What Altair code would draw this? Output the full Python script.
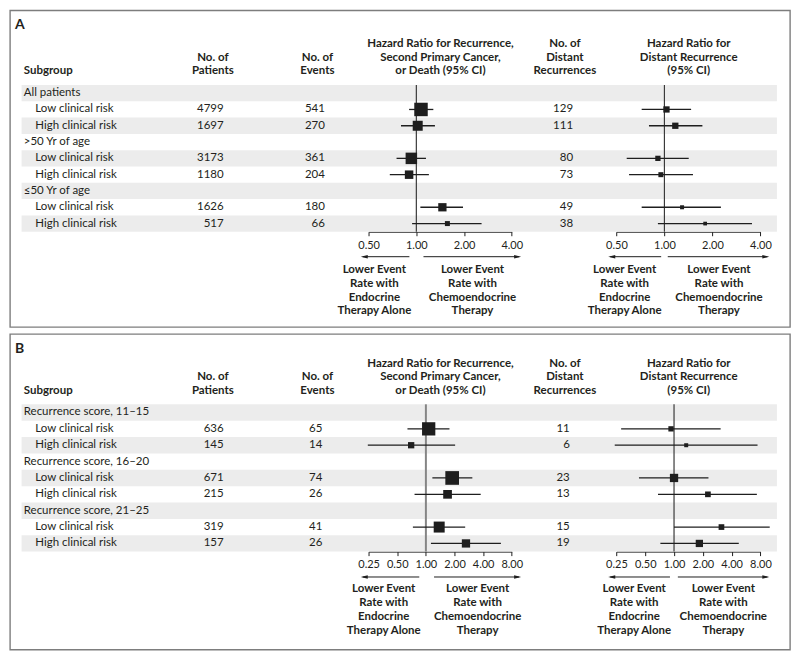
import altair as alt
import pandas as pd

# ---------------- data: panel A ----------------
A_rows = ["All patients", "Low clinical risk", "High clinical risk",
          ">50 Yr of age", "Low clinical risk", "High clinical risk",
          "≤50 Yr of age", "Low clinical risk", "High clinical risk"]
A_group_rows = [0, 3, 6]
A_patients = [4799, 1697, 3173, 1180, 1626, 517]
A_events = [541, 270, 361, 204, 180, 66]
A_distant = [129, 111, 80, 73, 49, 38]
A_hr1 = [1.07, 1.02, 0.93, 0.90, 1.46, 1.57]
A_lo1 = [0.90, 0.80, 0.75, 0.68, 1.06, 0.94]
A_hi1 = [1.28, 1.31, 1.15, 1.20, 1.97, 2.58]
A_wt1 = [13.5, 10.0, 11.5, 8.5, 8.3, 5.0]
A_hr2 = [1.03, 1.17, 0.91, 0.95, 1.29, 1.80]
A_lo2 = [0.72, 0.80, 0.58, 0.60, 0.72, 0.91]
A_hi2 = [1.47, 1.73, 1.42, 1.51, 2.26, 3.54]
A_wt2 = [6.3, 6.3, 5.3, 5.0, 4.0, 3.7]
A_ticks = [0.5, 1, 2, 4]

# ---------------- data: panel B ----------------
B_rows = ["Recurrence score, 11–15", "Low clinical risk", "High clinical risk",
          "Recurrence score, 16–20", "Low clinical risk", "High clinical risk",
          "Recurrence score, 21–25", "Low clinical risk", "High clinical risk"]
B_group_rows = [0, 3, 6]
B_patients = [636, 145, 671, 215, 319, 157]
B_events = [65, 14, 74, 26, 41, 26]
B_distant = [11, 6, 23, 13, 15, 19]
B_hr1 = [1.07, 0.70, 1.89, 1.69, 1.38, 2.64]
B_lo1 = [0.64, 0.245, 1.17, 0.76, 0.73, 1.13]
B_hi1 = [1.77, 2.03, 3.08, 3.77, 2.59, 6.15]
B_wt1 = [13.3, 6.3, 13.7, 8.7, 11.0, 8.3]
B_hr2 = [0.93, 1.34, 1.00, 2.26, 3.13, 1.84]
B_lo2 = [0.28, 0.24, 0.43, 0.68, 1.00, 0.72]
B_hi2 = [3.07, 7.46, 2.29, 7.34, 10.0, 4.75]
B_wt2 = [5.3, 4.0, 8.3, 5.7, 5.7, 7.3]
B_ticks = [0.25, 0.5, 1, 2, 4, 8]

# ---------------- text ----------------
H_SUBGROUP = ["Subgroup"]
H_PATIENTS = ["No. of", "Patients"]
H_EVENTS = ["No. of", "Events"]
H_HR1 = ["Hazard Ratio for Recurrence,", "Second Primary Cancer,", "or Death (95% CI)"]
H_DISTANT = ["No. of", "Distant", "Recurrences"]
H_HR2 = ["Hazard Ratio for", "Distant Recurrence", "(95% CI)"]
NOTE_LEFT = ["Lower Event", "Rate with", "Endocrine", "Therapy Alone"]
NOTE_RIGHT = ["Lower Event", "Rate with", "Chemoendocrine", "Therapy"]

# ---------------- style ----------------
FONT = "Lato"
INK = "#1e1e1e"
TXT = "#231f20"
SHADE = "#ececec"
FS = 11.5
W = 781
ONE = pd.DataFrame({"k": [0]})
LEFT_HEAD = "M-1,0L1,-0.5L1,0.5Z"
RIGHT_HEAD = "M1,0L-1,-0.5L-1,0.5Z"


def text_block(lines, x, y_center_first, align, bold=True, lh=13.6, size=FS):
    return alt.Chart(ONE).mark_text(
        align=align, baseline="top", font=FONT, fontSize=size,
        fontWeight="bold" if bold else "normal", color=TXT, lineHeight=lh
    ).encode(x=alt.value(x), y=alt.value(y_center_first - 0.43 * size), text=alt.value(lines))


def arrow(x_tail, x_tip, y):
    d = -1 if x_tip < x_tail else 1
    line = alt.Chart(ONE).mark_rule(color=INK, strokeWidth=1).encode(
        x=alt.value(x_tail), x2=alt.value(x_tip - d * 2), y=alt.value(y))
    head = alt.Chart(ONE).mark_point(
        shape=LEFT_HEAD if d < 0 else RIGHT_HEAD, filled=True, color=INK,
        opacity=1, size=49, strokeWidth=0
    ).encode(x=alt.value(x_tip - d * 3.5), y=alt.value(y))
    return [line, head]


def forest(d, hr, lo, hi, area, dom, rng, ticks, L, H, refc, refw, lpad):
    xs = alt.Scale(type="log", base=2, domain=dom, range=rng, nice=False)
    ax = alt.Axis(orient="bottom", offset=L["row_bot"] - H, values=ticks, format=".2f",
                  title=None, grid=False, tickSize=4, tickColor=INK, tickWidth=1,
                  domainColor=INK, domainWidth=1, labelFont=FONT, labelFontSize=11,
                  labelColor=TXT, labelFlush=False, labelOverlap=False, labelPadding=lpad)
    ys = L["ys"]
    ref = alt.Chart(pd.DataFrame({"one": [1.0]})).mark_rule(color=refc, strokeWidth=refw).encode(
        x=alt.X("one:Q", scale=xs, axis=ax),
        y=alt.value(L["row_top"]), y2=alt.value(L["row_bot"]))
    ci = alt.Chart(d).mark_rule(color=INK, strokeWidth=1.3).encode(
        x=alt.X(f"{lo}:Q", scale=xs, axis=ax), x2=f"{hi}:Q",
        y=alt.Y("row:Q", scale=ys, axis=None))
    sq = alt.Chart(d).mark_square(color=INK, opacity=1, filled=True).encode(
        x=alt.X(f"{hr}:Q", scale=xs, axis=ax),
        y=alt.Y("row:Q", scale=ys, axis=None),
        size=alt.Size(f"{area}:Q", scale=None, legend=None))
    return alt.layer(ref, ci, sq)


def panel(letter, rows, group_rows, patients, events, distant,
          hr1, lo1, hi1, wt1, hr2, lo2, hi2, wt2, ticks, dom, L, H):
    n = len(rows)
    lab = pd.DataFrame({"row": list(range(n)), "label": rows})
    lab["grp"] = lab["row"].isin(group_rows)
    lab["r0"] = lab["row"] - 0.5
    lab["r1"] = lab["row"] + 0.5
    sub_rows = [i for i in range(n) if i not in group_rows]
    d = pd.DataFrame({"row": sub_rows, "patients": patients, "events": events,
                      "distant": distant, "hr1": hr1, "lo1": lo1, "hi1": hi1,
                      "hr2": hr2, "lo2": lo2, "hi2": hi2})
    d["a1"] = [w * w for w in wt1]
    d["a2"] = [w * w for w in wt2]
    ys = alt.Scale(domain=[-0.5, n - 0.5], range=[L["row_top"], L["row_bot"]], nice=False, zero=False)
    L["ys"] = ys
    Y = alt.Y("row:Q", scale=ys, axis=None)

    layers = []
    layers.append(alt.Chart(lab[lab["row"] % 2 == 0]).mark_rect(color=SHADE).encode(
        x=alt.value(11.6), x2=alt.value(767.9),
        y=alt.Y("r0:Q", scale=ys, axis=None), y2="r1:Q"))
    layers.append(alt.Chart(lab[lab["grp"]]).mark_text(
        align="left", baseline="middle", font=FONT, fontSize=FS, color=TXT).encode(
        x=alt.value(13.8), y=Y, text="label:N"))
    layers.append(alt.Chart(lab[~lab["grp"]]).mark_text(
        align="left", baseline="middle", font=FONT, fontSize=FS, color=TXT).encode(
        x=alt.value(25.4), y=Y, text="label:N"))
    for col, xr in [("patients", 213.9), ("events", L["events_x"]), ("distant", L["distant_x"])]:
        layers.append(alt.Chart(d).mark_text(
            align="right", baseline="middle", font=FONT, fontSize=FS, color=TXT).encode(
            x=alt.value(xr), y=Y, text=alt.Text(f"{col}:Q", format="d")))

    # headers
    hc = L["head"]
    layers.append(text_block([letter], 4.9, L["letter_y"], "left", size=14))
    for lines, x, al in [(H_SUBGROUP, 13.8, "left"), (H_PATIENTS, 203.1, "center"),
                         (H_EVENTS, 307.8, "center"), (H_HR1, 431.0, "center"),
                         (H_DISTANT, 555.6, "center"), (H_HR2, 679.6, "center")]:
        layers.append(text_block(lines, x, hc[3 - len(lines)], al, lh=L["head_lh"]))

    # annotations below the axes
    for (xl, xr, atl, atl2, atr, atr2) in L["notes"]:
        layers.append(text_block(NOTE_LEFT, xl, L["note_y"], "center", lh=L["note_lh"]))
        layers.append(text_block(NOTE_RIGHT, xr, L["note_y"], "center", lh=L["note_lh"]))
        layers += arrow(atl, atl2, L["arrow_y"])
        layers += arrow(atr, atr2, L["arrow_y"])

    f1 = forest(d, "hr1", "lo1", "hi1", "a1", dom, [359.1, 502.4], ticks, L, H,
                L["ref1"][0], L["ref1"][1], L["lpad"])
    f2 = forest(d, "hr2", "lo2", "hi2", "a2", dom, [607.2, 751.4], ticks, L, H,
                "#3a3a3a", 1.2, L["lpad"])
    layers += [f1, f2]
    return alt.layer(*layers).resolve_scale(x="independent").properties(width=W, height=H)


HA, HB = 317, 316
LA = {"letter_y": 13.7, "head": [33.0, 46.3, 60.0], "head_lh": 13.5,
      "row_top": 74.7, "row_bot": 221.6, "arrow_y": 246.6, "note_y": 259.0, "note_lh": 13.8,
      "events_x": 315.3, "distant_x": 563.8, "lpad": 4, "ref1": ("#3a3a3a", 1.2),
      "notes": [(364.8, 463.1, 399.9, 351.2, 414.0, 511.8),
                (615.4, 709.9, 652.0, 599.0, 658.6, 760.3)]}
LB = {"letter_y": 14.0, "head": [28.7, 41.8, 56.4], "head_lh": 13.8,
      "row_top": 70.4, "row_bot": 217.9, "arrow_y": 243.3, "note_y": 254.7, "note_lh": 14.0,
      "events_x": 312.7, "distant_x": 560.5, "lpad": 2.5, "ref1": ("#858585", 2),
      "notes": [(374.2, 468.2, 409.8, 351.2, 424.6, 511.8),
                (625.0, 714.2, 660.8, 599.0, 668.7, 760.3)]}

pA = panel("A", A_rows, A_group_rows, A_patients, A_events, A_distant,
           A_hr1, A_lo1, A_hi1, A_wt1, A_hr2, A_lo2, A_hi2, A_wt2, A_ticks, [0.5, 4], LA, HA)
pB = panel("B", B_rows, B_group_rows, B_patients, B_events, B_distant,
           B_hr1, B_lo1, B_hi1, B_wt1, B_hr2, B_lo2, B_hi2, B_wt2, B_ticks, [0.25, 8], LB, HB)

chart = alt.vconcat(pA, pB, spacing=5).properties(
    padding={"left": 1, "top": 1, "right": 1, "bottom": 1}, background="white"
).configure_view(stroke="#7d7d7d", strokeWidth=1.4)

chart.save("out.html", embed_options={"renderer": "svg", "actions": False})
